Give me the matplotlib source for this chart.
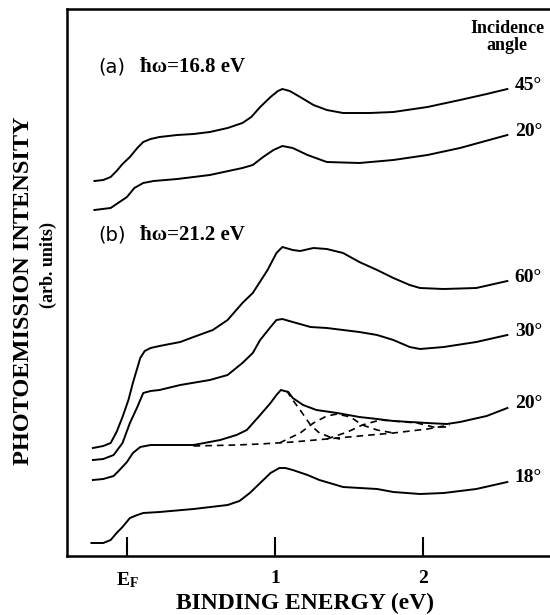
import matplotlib
matplotlib.use('Agg')
import matplotlib.pyplot as plt

plt.rcParams['font.family'] = ['Liberation Serif', 'DejaVu Serif']
plt.rcParams['font.weight'] = 'bold'
plt.rcParams['axes.labelweight'] = 'bold'
plt.rcParams['mathtext.fontset'] = 'custom'
plt.rcParams['mathtext.rm'] = 'Liberation Serif:bold'
plt.rcParams['mathtext.bf'] = 'Liberation Serif:bold'

# binding energy (eV) and intensity (arb. units)
# (a) hw = 16.8 eV
e_a45 = [-0.22, -0.16, -0.11, -0.07, -0.03, 0.02, 0.07, 0.11, 0.16, 0.22, 0.34, 0.45,
         0.56, 0.68, 0.78, 0.84, 0.90, 0.97, 1.02, 1.05, 1.10, 1.17, 1.26, 1.35,
         1.46, 1.64, 1.80, 2.03, 2.25, 2.43, 2.57]
i_a45 = [375, 376, 379, 385, 392, 399, 408, 414, 417, 419, 421, 422,
         424, 428, 433, 439, 449, 459, 465, 467, 465, 459, 451, 446,
         443, 443, 444, 449, 456, 462, 467]

e_a20 = [-0.22, -0.11, -0.06, 0.00, 0.05, 0.11, 0.18, 0.34, 0.56, 0.78, 0.85, 0.92,
         0.99, 1.05, 1.12, 1.22, 1.35, 1.57, 1.80, 2.03, 2.25, 2.57]
i_a20 = [346, 348, 353, 359, 368, 373, 375, 377, 381, 388, 391, 399,
         406, 410, 408, 401, 394, 393, 396, 401, 408, 421]

# (b) hw = 21.2 eV
e_b60 = [-0.23, -0.16, -0.11, -0.07, -0.03, 0.01, 0.04, 0.07, 0.09, 0.12, 0.16, 0.22,
         0.36, 0.45, 0.58, 0.68, 0.78, 0.85, 0.95, 1.01, 1.05, 1.12, 1.17, 1.26,
         1.35, 1.46, 1.57, 1.69, 1.80, 1.91, 1.98, 2.14, 2.36, 2.57]
i_b60 = [108, 110, 113, 124, 139, 156, 173, 188, 198, 205, 208, 210,
         214, 219, 226, 236, 253, 263, 286, 303, 309, 306, 305, 308,
         307, 303, 294, 286, 278, 271, 268, 267, 268, 275]

e_b30 = [-0.23, -0.16, -0.09, -0.03, 0.02, 0.07, 0.11, 0.16, 0.22, 0.36, 0.56, 0.68,
         0.78, 0.85, 0.90, 0.97, 1.01, 1.05, 1.12, 1.24, 1.35, 1.57, 1.69, 1.80,
         1.91, 1.98, 2.14, 2.36, 2.57]
i_b30 = [96, 97, 101, 113, 133, 149, 163, 165, 166, 171, 176, 181,
         193, 203, 216, 229, 236, 237, 234, 229, 228, 224, 221, 216,
         209, 207, 209, 214, 221]

e_b20 = [-0.23, -0.16, -0.09, -0.05, 0.00, 0.04, 0.09, 0.16, 0.29, 0.45, 0.63, 0.74,
         0.81, 0.90, 0.97, 1.01, 1.04, 1.09, 1.12, 1.19, 1.28, 1.42, 1.57, 1.69,
         1.80, 2.03, 2.16, 2.25, 2.43, 2.57]
i_b20 = [76, 77, 80, 86, 94, 103, 109, 111, 111, 111, 116, 121,
         126, 141, 153, 161, 166, 164, 158, 151, 146, 143, 139, 137,
         135, 133, 132, 134, 140, 148]

e_b18 = [-0.24, -0.16, -0.11, -0.07, -0.03, 0.02, 0.07, 0.11, 0.22, 0.45, 0.68, 0.76,
         0.83, 0.90, 0.97, 1.03, 1.07, 1.12, 1.22, 1.30, 1.46, 1.69, 1.80, 1.98,
         2.14, 2.36, 2.57]
i_b18 = [13, 13, 16, 23, 29, 38, 41, 43, 44, 47, 51, 55,
         63, 73, 83, 88, 88, 86, 81, 76, 69, 67, 64, 62,
         63, 67, 74]

# decomposition of the 20 deg curve (dashed)
e_base = [0.45, 0.74, 0.90, 1.12, 1.35, 1.57, 1.80, 2.03, 2.18]
i_base = [110, 111, 112, 114, 117, 120, 123, 127, 131]
e_c1 = [1.08, 1.12, 1.17, 1.24, 1.30, 1.37, 1.44]
i_c1 = [165, 156, 146, 131, 123, 119, 117]
e_c2 = [1.03, 1.17, 1.26, 1.35, 1.42, 1.51, 1.59, 1.69, 1.80]
i_c2 = [113, 123, 133, 140, 142, 139, 131, 126, 123]
e_c3 = [1.35, 1.49, 1.59, 1.71, 1.80, 1.96, 2.07, 2.16]
i_c3 = [117, 124, 131, 136, 135, 133, 129, 129]

curves = [(e_a45, i_a45, '45°'), (e_a20, i_a20, '20°'),
          (e_b60, i_b60, '60°'), (e_b30, i_b30, '30°'),
          (e_b20, i_b20, '20°'), (e_b18, i_b18, '18°')]
components = [(e_base, i_base), (e_c1, i_c1), (e_c2, i_c2), (e_c3, i_c3)]

tick_pos = [0, 1, 2]
tick_labels = [r'$\mathbf{E_F}$', '1', '2']

fig = plt.figure(figsize=(5.5, 6.15), dpi=100)
ax = fig.add_axes([67 / 550, 59 / 615, 483 / 550, 547 / 615])

for e, i, lab in curves:
    ax.plot(e, i, color='black', lw=1.4, solid_joinstyle='round')
    ax.text(2.62, i[-1] + 4, lab, fontsize=14, va='center', ha='left')

for e, i in components:
    ax.plot(e, i, color='black', lw=1.2, ls=(0, (4, 3)))

ax.text(-0.196, 489, '(a)', family='DejaVu Sans', weight='normal', fontsize=14, va='center')
ax.text(0.09, 489, 'ħω=16.8 eV', fontsize=15, va='center')
ax.text(-0.196, 321, '(b)', family='DejaVu Sans', weight='normal', fontsize=14, va='center')
ax.text(0.09, 321, 'ħω=21.2 eV', fontsize=15, va='center')
ax.text(2.57, 519, 'Incidence\nangle', fontsize=13, ha='center', va='center', linespacing=1.0)

ax.set_xlim(-0.405, 2.858)
ax.set_ylim(0, 547)
ax.set_xticks(tick_pos)
ax.set_xticklabels(tick_labels, fontsize=14)
ax.set_yticks([])
ax.tick_params(axis='x', direction='in', length=14, width=1.5, pad=10)

for s in ['left', 'bottom', 'top']:
    ax.spines[s].set_linewidth(1.8)
ax.spines['right'].set_visible(False)

ax.set_xlabel('BINDING ENERGY (eV)', fontsize=17, va='center')
ax.xaxis.set_label_coords(0.493, -0.086)
ax.set_ylabel('PHOTOEMISSION INTENSITY', fontsize=17.5, va='center')
ax.yaxis.set_label_coords(-0.091, 0.485)
ax.text(-0.038, 0.532, '(arb. units)', transform=ax.transAxes, rotation=90,
        fontsize=13, ha='center', va='center')

fig.savefig('out.png', dpi=100)
